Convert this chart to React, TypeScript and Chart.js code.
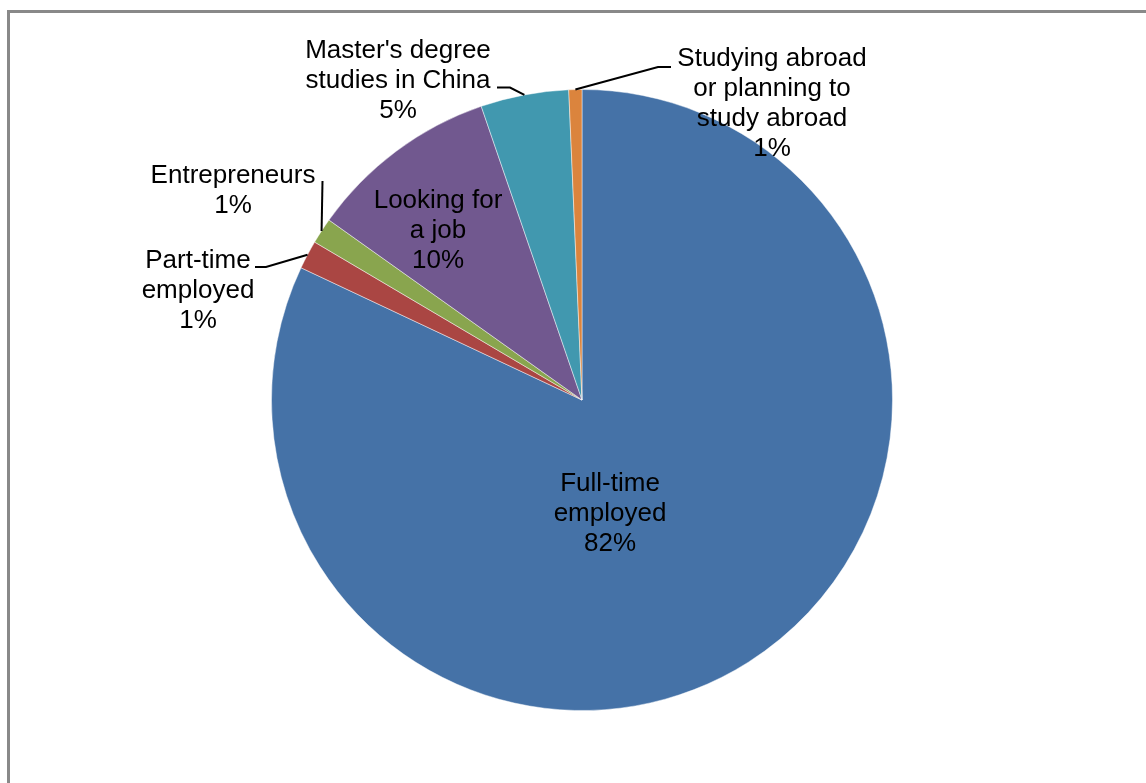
import React, { useEffect, useRef } from "react";
import { Chart, registerables } from "chart.js";

Chart.register(...registerables);

// Graduate destinations, share of respondents (%)
const categories: string[][] = [
  ["Full-time", "employed"],
  ["Part-time", "employed"],
  ["Entrepreneurs"],
  ["Looking for", "a job"],
  ["Master's degree", "studies in China"],
  ["Studying abroad", "or planning to", "study abroad"],
];
const shares: number[] = [82.0, 1.49, 1.35, 9.9, 4.58, 0.68];
const sliceColors: string[] = ["#4572A7", "#AA4643", "#89A54E", "#71588F", "#4198AF", "#DB843D"];

// Label placement relative to the pie centre: text centre x / first baseline,
// plus optional leader-line bend points (from the text towards the slice).
type Placement = { dx: number; dy: number; bends: [number, number][] };
const labelPlacement: Placement[] = [
  { dx: 28, dy: 91, bends: [] },
  { dx: -384, dy: -132, bends: [[-327, -133], [-316, -133]] },
  { dx: -349, dy: -217, bends: [[-259.5, -219]] },
  { dx: -144, dy: -192, bends: [] },
  { dx: -184, dy: -342, bends: [[-85, -312.5], [-72, -312.5]] },
  { dx: 190, dy: -334, bends: [[89, -333], [76, -333]] },
];

const LINE_HEIGHT = 30;
const FONT = '26px "Liberation Sans", Arial, Helvetica, sans-serif';

const pieLabels = {
  id: "pieLabels",
  afterDatasetsDraw(chart: any) {
    const ctx: CanvasRenderingContext2D = chart.ctx;
    const meta = chart.getDatasetMeta(0);
    const values: number[] = chart.data.datasets[0].data;
    const total = values.reduce((a, b) => a + b, 0);
    ctx.save();
    meta.data.forEach((arc: any, i: number) => {
      const { x, y, startAngle, endAngle, outerRadius } = arc.getProps(
        ["x", "y", "startAngle", "endAngle", "outerRadius"],
        true
      );
      const place = labelPlacement[i];
      if (place.bends.length) {
        const mid = (startAngle + endAngle) / 2;
        const ex = x + Math.cos(mid) * outerRadius;
        const ey = y + Math.sin(mid) * outerRadius;
        ctx.beginPath();
        place.bends.forEach(([bx, by], k) => {
          if (k === 0) ctx.moveTo(x + bx, y + by);
          else ctx.lineTo(x + bx, y + by);
        });
        ctx.lineTo(ex, ey);
        ctx.strokeStyle = "#000000";
        ctx.lineWidth = 2;
        ctx.stroke();
      }
      const lines = [...categories[i], Math.round((values[i] / total) * 100) + "%"];
      ctx.font = FONT;
      ctx.fillStyle = "#000000";
      ctx.textAlign = "center";
      ctx.textBaseline = "alphabetic";
      lines.forEach((t, k) => {
        ctx.fillText(t, x + place.dx, y + place.dy + k * LINE_HEIGHT);
      });
    });
    ctx.restore();
  },
};

export default function App() {
  const canvasRef = useRef<HTMLCanvasElement | null>(null);

  useEffect(() => {
    if (!canvasRef.current) return;
    const chart = new Chart(canvasRef.current, {
      type: "pie",
      data: {
        labels: categories,
        datasets: [
          {
            data: shares,
            backgroundColor: sliceColors,
            borderColor: "rgba(255,255,255,0.45)",
            borderWidth: 1,
          },
        ],
      },
      options: {
        responsive: false,
        animation: false,
        devicePixelRatio: 1,
        layout: { padding: { left: 271, right: 253, top: 89, bottom: 72 } },
        plugins: {
          legend: { display: false },
          tooltip: { enabled: false },
        },
      },
      plugins: [pieLabels],
    });
    return () => chart.destroy();
  }, []);

  return (
    <div
      style={{
        position: "fixed",
        left: 0,
        top: 0,
        width: 1146,
        height: 783,
        background: "#ffffff",
        overflow: "hidden",
      }}
    >
      <div
        style={{
          position: "absolute",
          left: 7,
          top: 10,
          right: -10,
          bottom: -10,
          borderLeft: "3px solid #898989",
          borderTop: "3px solid #898989",
        }}
      />
      <canvas
        ref={canvasRef}
        width={1146}
        height={783}
        style={{ position: "absolute", left: 0, top: 0, width: 1146, height: 783 }}
      />
    </div>
  );
}
